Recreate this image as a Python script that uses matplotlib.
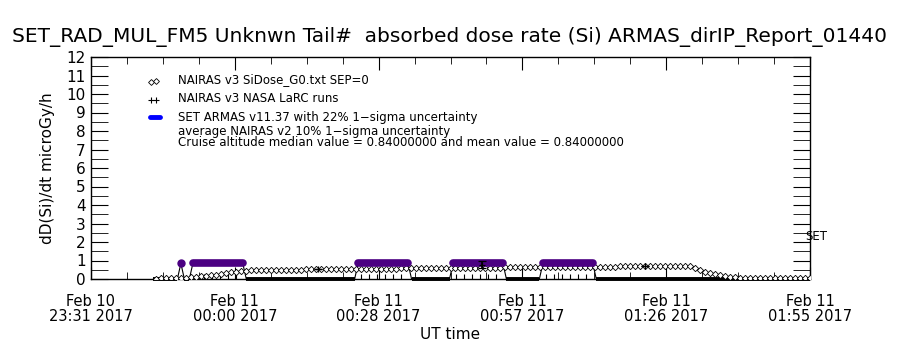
import numpy as np
import matplotlib
matplotlib.use("Agg")
import matplotlib.pyplot as plt

# ---------------- data ----------------
# time in minutes after Feb 10 23:31 UT
tick_minutes = [0, 28.8, 57.6, 86.4, 115.2, 144.0]
tick_labels = ["Feb 10\n23:31 2017", "Feb 11\n00:00 2017", "Feb 11\n00:28 2017",
               "Feb 11\n00:57 2017", "Feb 11\n01:26 2017", "Feb 11\n01:55 2017"]

nairas_t = list(range(13, 145))
nairas_v = [0.02, 0.03, 0.04, 0.05, 0.06, 0.07, 0.08, 0.10, 0.12, 0.14,
            0.17, 0.20, 0.24, 0.28, 0.32, 0.36, 0.40, 0.43, 0.45, 0.47,
            0.48, 0.49, 0.50, 0.50, 0.50, 0.50, 0.51, 0.51, 0.51, 0.51,
            0.52, 0.52, 0.52, 0.52, 0.53, 0.53, 0.53, 0.53, 0.54, 0.54,
            0.54, 0.54, 0.55, 0.55, 0.55, 0.55, 0.56, 0.56, 0.56, 0.57,
            0.57, 0.57, 0.58, 0.58, 0.58, 0.59, 0.59, 0.59, 0.60, 0.60,
            0.60, 0.60, 0.61, 0.61, 0.61, 0.61, 0.62, 0.62, 0.62, 0.62,
            0.63, 0.63, 0.63, 0.63, 0.64, 0.64, 0.64, 0.64, 0.65, 0.65,
            0.65, 0.65, 0.65, 0.66, 0.66, 0.66, 0.66, 0.66, 0.67, 0.67,
            0.67, 0.67, 0.67, 0.68, 0.68, 0.68, 0.68, 0.68, 0.68, 0.68,
            0.68, 0.68, 0.68, 0.68, 0.68, 0.68, 0.68, 0.68, 0.60, 0.50,
            0.40, 0.32, 0.26, 0.20, 0.16, 0.13, 0.10, 0.08, 0.07, 0.06,
            0.06, 0.06, 0.05, 0.05, 0.05, 0.05, 0.05, 0.05, 0.05, 0.05,
            0.05, 0.05]

larc_t = [45.5, 78.3, 111.0]
larc_v = [0.54, 0.78, 0.70]
larc_err = [0.0, 0.2, 0.0]

armas_start = [18.0, 20.4, 53.5, 72.5, 90.5]
armas_end = [18.0, 30.4, 63.5, 82.5, 100.5]
armas_value = 0.84
armas_first = 12.5
armas_last = 144.0

# ---------------- figure ----------------
plt.rcParams['font.family'] = ['DejaVu Sans']
fig = plt.figure(figsize=(9, 3.5), dpi=100)
ax = fig.add_axes([91/900, 1-279/350, (810-91)/900, (279-57)/350])

purple = "#4b0082"

# ARMAS line (zero between flight segments)
at, av = [armas_first], [0.0]
for s, e in zip(armas_start, armas_end):
    at += [s - 0.7, s, e, e + 0.7]
    av += [0.0, armas_value, armas_value, 0.0]
at.append(armas_last); av.append(0.0)
ax.plot(at, av, color="black", lw=0.8, zorder=2)
# thick zero part between segments
zt = [armas_first]
for s, e in zip(armas_start, armas_end):
    zt += [s - 0.7, np.nan, e + 0.7]
zt.append(armas_last)
ax.plot(zt, [np.nan if np.isnan(x) else 0.0 for x in zt], color="black", lw=2.8,
        zorder=3, solid_capstyle="butt", clip_on=False)

# small vertical ticks inside segments
for s, e in zip(armas_start[1:], armas_end[1:]):
    tt = np.arange(s + 0.6, e, 1.6)
    ax.plot(tt, np.full(len(tt), 0.12), ls="none", marker="|", ms=4, mew=0.8, color="black", zorder=3)

# purple segments
for s, e in zip(armas_start, armas_end):
    if e > s:
        ax.plot([s, e], [armas_value, armas_value], color=purple, lw=5.5, solid_capstyle="round", zorder=5)
    else:
        ax.plot([s], [armas_value], marker="o", ms=5, color=purple, zorder=5)

# NAIRAS diamonds
ax.plot(nairas_t, nairas_v, ls="none", marker="D", ms=3.2, mfc="white", mec="black", mew=0.6, zorder=4)

# LaRC runs
ax.errorbar(larc_t, larc_v, yerr=larc_err, fmt="+", color="black", ms=5, mew=0.9,
            elinewidth=1.2, capsize=3, zorder=6)

ax.set_xlim(0, 144)
ax.set_ylim(0, 12)
ax.set_xticks(tick_minutes)
ax.set_xticklabels(tick_labels, linespacing=1.0)
ax.set_xticks(np.arange(0, 144.01, 7.2), minor=True)
ax.set_yticks(range(0, 13))
ax.set_yticks(np.arange(0, 12.01, 0.5), minor=True)
ax.tick_params(axis="both", which="both", direction="in", top=True, right=True, labelsize=10.5)
ax.tick_params(axis="x", which="major", length=9, pad=11, labelsize=10.5)
ax.tick_params(axis="x", which="minor", length=5)
ax.tick_params(axis="y", which="both", length=12, pad=4, labelsize=11)
for sp in ax.spines.values():
    sp.set_linewidth(1.0)

ax.set_xlabel("UT time", fontsize=11, labelpad=2)
ax.set_ylabel("dD(Si)/dt microGy/h", fontsize=11, labelpad=8)
fig.text(0.5, 1-37/350, "SET_RAD_MUL_FM5 Unknwn Tail#  absorbed dose rate (Si) ARMAS_dirIP_Report_01440",
         ha="center", va="center", fontsize=14.5)

# legend (manual)
def ypx(p):
    return 12 * (279 - p) / (279 - 57)
def xpx(p):
    return 144 * (p - 91) / (810 - 91)
ax.plot([xpx(151), xpx(156)], [ypx(82), ypx(81)], ls="none", marker="D", ms=3, mfc="white", mec="black", mew=0.6)
ax.plot([xpx(151), xpx(156)], [ypx(100), ypx(100)], ls="none", marker="+", ms=5, mew=0.8, color="black")
ax.plot([xpx(150), xpx(160)], [ypx(117), ypx(117)], color="#0000ff", lw=3.5, solid_capstyle="round")
legend_lines = [(80, "NAIRAS v3 SiDose_G0.txt SEP=0"),
                (99, "NAIRAS v3 NASA LaRC runs"),
                (117, "SET ARMAS v11.37 with 22% 1\u2212sigma uncertainty"),
                (131, "average NAIRAS v2 10% 1\u2212sigma uncertainty"),
                (142, "Cruise altitude median value = 0.84000000 and mean value = 0.84000000")]
for p, s in legend_lines:
    ax.text(xpx(178), ypx(p), s, fontsize=8.5, va="center", ha="left")

ax.text(143.0, 2.3, "SET", fontsize=8.5, va="center", ha="left")

fig.savefig("out.png", dpi=100)
